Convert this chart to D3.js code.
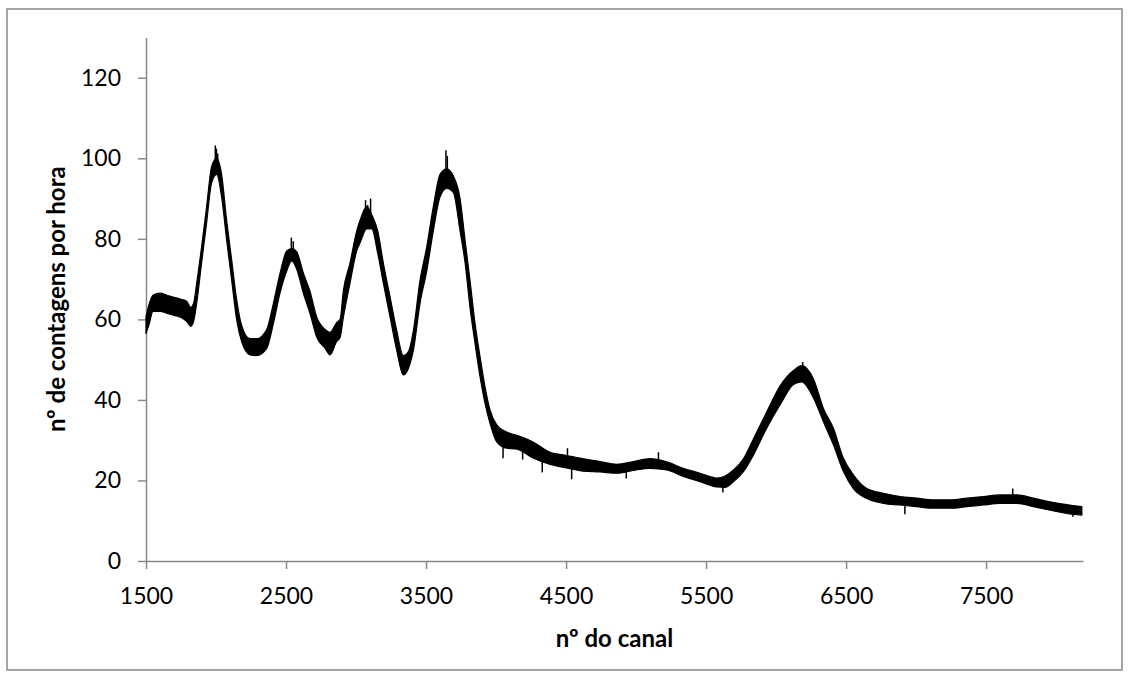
<!DOCTYPE html>
<html>
<head>
<meta charset="utf-8">
<script src="https://cdn.jsdelivr.net/npm/d3@7"></script>
<style>
    body { margin: 0; background: #fff; }
    svg { display: block; }
</style>
</head>
<body>
<div id="chart"></div>
<script>
// Spectrum: lower and upper edge of the noisy trace
const channels = [1500, 1520, 1550, 1600, 1650, 1700, 1750, 1790, 1820, 1840, 1862, 1897, 1933, 1969, 2005,
    2040, 2076, 2112, 2148, 2183, 2243, 2290, 2362, 2410, 2457, 2505, 2540, 2576, 2624, 2671, 2719, 2779,
    2814, 2862, 2886, 2910, 2957, 3005, 3029, 3076, 3112, 3155, 3195, 3243, 3290, 3338, 3374, 3410, 3457,
    3505, 3552, 3600, 3648, 3695, 3743, 3779, 3814, 3850, 3886, 3921, 3957, 4005, 4076, 4148, 4267, 4386,
    4505, 4624, 4743, 4862, 4981, 5100, 5219, 5338, 5457, 5576, 5636, 5695, 5767, 5838, 5933, 6029, 6124,
    6183, 6267, 6338, 6410, 6481, 6552, 6648, 6767, 6886, 7005, 7124, 7243, 7362, 7481, 7600, 7719, 7838,
    7957, 8076, 8184];
const countsLow = [56.5, 58.5, 62, 62, 61.5, 61, 60.5, 59.5, 58.3, 59.5, 64, 74, 84, 94, 96,
    90.4, 79.7, 69.7, 59.8, 54.5, 51.2, 51, 52.8, 59, 66.5, 72, 74.5, 72.5, 66.5, 61.5, 55.6, 52.8,
    51.2, 54.5, 55.5, 60.6, 69, 77, 79, 82.5, 82.5, 76.4, 69, 60.6, 52.4, 46.2, 47.8, 52.4, 64,
    72, 82, 90.4, 92.5, 91.5, 82, 74, 63, 54, 45.7, 39.2, 34.2, 29.6, 28, 27.8, 25.5, 24,
    23.1, 22.3, 22.1, 21.8, 22.5, 23, 22.6, 21, 19.7, 18.4, 18.3, 19.7, 22.2, 26.3, 33, 38.8, 43.8,
    44.5, 40.5, 34.6, 28.8, 22.2, 18, 15.5, 14.3, 13.9, 13.5, 13.1, 13.1, 13.5, 13.9, 14.3, 14.3, 13.5,
    12.6, 11.8, 11.4];
const countsHigh = [60.6, 63.5, 66, 66.5, 66, 65.5, 65, 64.5, 63, 64, 69, 78, 88, 98, 100,
    96, 84.6, 74.7, 64.8, 58.5, 55.2, 55.2, 57.5, 64, 71.4, 77, 77.6, 76.8, 71.5, 67, 60.6, 57.5,
    56.8, 59.2, 60, 67.2, 74, 82, 84.6, 88, 86, 82, 74, 65.6, 57.3, 51, 52, 57.3, 69.7,
    78, 88, 96, 97.4, 95.6, 90, 79.6, 69.7, 59, 50.7, 43.3, 37.5, 33.8, 32, 31.2, 29.5, 27,
    26.2, 25.4, 24.7, 24, 24.7, 25.4, 24.6, 23, 21.8, 20.6, 21.1, 22.6, 25.4, 30.3, 37, 43.5, 47.3,
    48.5, 45.2, 37.9, 32.9, 25.5, 21.4, 18, 16.8, 16, 15.6, 15.2, 15.2, 15.6, 16, 16.4, 16.4, 15.6,
    14.7, 14, 13.5];

// Single-channel spikes that poke out of the band (channel, low end, high end)
const spikeChannels = [1995, 2003, 2012, 2538, 2552, 3068, 3083, 3104, 3642, 3652, 6190,
    4050, 4190, 4330, 4510, 4540, 4930, 5160, 5620, 6920, 7690, 8120];
const spikeLow = [98, 98, 97, 76, 76, 85, 85, 85, 96, 96, 46,
    25.5, 25.2, 22, 23, 20.3, 20.5, 23, 17, 11.6, 14.5, 11];
const spikeHigh = [103.2, 102.4, 101.2, 80.3, 79.4, 89.6, 88.4, 90, 102, 100.6, 49.4,
    30, 29, 26, 28, 24, 23.5, 27, 20, 15, 18, 13.5];

const xTicks = [1500, 2500, 3500, 4500, 5500, 6500, 7500];
const yTicks = [0, 20, 40, 60, 80, 100, 120];

const xLabel = 'nº do canal';
const yLabel = 'nº de contagens por hora';

const width = 1131;
const height = 679;
const plot = { left: 146, right: 1083, top: 37.5, bottom: 561 };
const axisColor = '#898989';
const fontFamily = 'Lato, "Open Sans", sans-serif';

const svg = d3.select('#chart')
    .append('svg')
    .attr('width', width)
    .attr('height', height);

// Outer chart border
svg.append('rect')
    .attr('x', 7)
    .attr('y', 9)
    .attr('width', 1115)
    .attr('height', 661)
    .attr('fill', '#fff')
    .attr('stroke', axisColor)
    .attr('stroke-width', 1.5);

// Scales
const x = d3.scaleLinear()
    .domain([1500, 8192])
    .range([plot.left, plot.right]);

const y = d3.scaleLinear()
    .domain([0, 130])
    .range([plot.bottom, plot.top]);

// Axes
const xAxis = svg.append('g')
    .attr('transform', `translate(0,${plot.bottom})`)
    .call(d3.axisBottom(x)
        .tickValues(xTicks)
        .tickFormat(d3.format('d'))
        .tickSize(8)
        .tickSizeOuter(0)
        .tickPadding(19));

const yAxis = svg.append('g')
    .attr('transform', `translate(${plot.left},0)`)
    .call(d3.axisLeft(y)
        .tickValues(yTicks)
        .tickFormat(d3.format('d'))
        .tickSize(8)
        .tickSizeOuter(0)
        .tickPadding(17));

[xAxis, yAxis].forEach(g => {
    g.select('.domain').attr('stroke', axisColor).attr('stroke-width', 1.5);
    g.selectAll('.tick line').attr('stroke', axisColor).attr('stroke-width', 1.5);
    g.selectAll('.tick text')
        .attr('fill', '#000')
        .style('font-family', fontFamily)
        .style('font-size', '23px');
});

// Series: filled band between lower and upper edge
const series = channels.map((c, i) => ({ ch: c, lo: countsLow[i], hi: countsHigh[i] }));

const band = d3.area()
    .x(d => x(d.ch))
    .y0(d => y(d.lo))
    .y1(d => y(d.hi))
    .curve(d3.curveMonotoneX);

svg.append('path')
    .datum(series)
    .attr('fill', '#000')
    .attr('stroke', '#000')
    .attr('stroke-width', 1.2)
    .attr('stroke-linejoin', 'round')
    .attr('d', band);

// Noise spikes
svg.append('g')
    .selectAll('line')
    .data(spikeChannels.map((c, i) => ({ ch: c, lo: spikeLow[i], hi: spikeHigh[i] })))
    .enter()
    .append('line')
    .attr('x1', d => x(d.ch))
    .attr('x2', d => x(d.ch))
    .attr('y1', d => y(d.hi))
    .attr('y2', d => y(d.lo))
    .attr('stroke', '#000')
    .attr('stroke-width', 1.5);

// Axis titles
svg.append('text')
    .attr('x', (plot.left + plot.right) / 2)
    .attr('y', 647)
    .attr('text-anchor', 'middle')
    .style('font-family', fontFamily)
    .style('font-size', '24px')
    .style('font-weight', 'bold')
    .text(xLabel);

svg.append('text')
    .attr('transform', `translate(65,${(plot.top + plot.bottom) / 2}) rotate(-90)`)
    .attr('text-anchor', 'middle')
    .style('font-family', fontFamily)
    .style('font-size', '24px')
    .style('font-weight', 'bold')
    .text(yLabel);
</script>
</body>
</html>
